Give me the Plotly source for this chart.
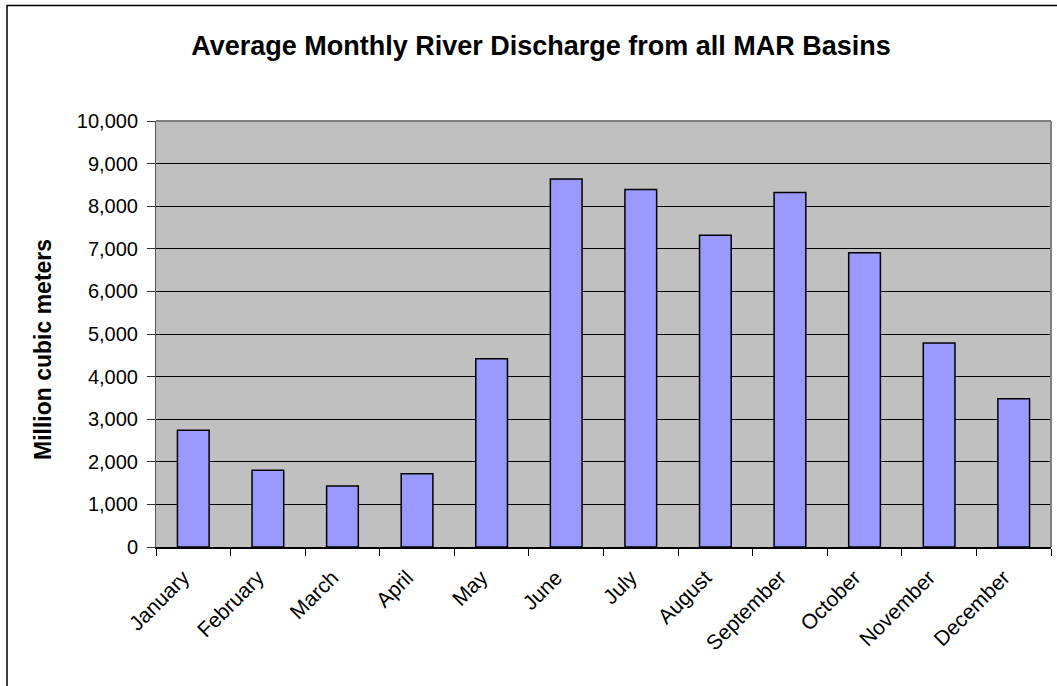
import plotly.graph_objects as go

months = ["January", "February", "March", "April", "May", "June", "July",
          "August", "September", "October", "November", "December"]
discharge = [2740, 1800, 1430, 1720, 4420, 8640, 8390, 7320, 8320, 6910, 4790, 3480]

y_ticks = list(range(0, 10001, 1000))
y_tick_text = [f"{v:,}" for v in y_ticks]

W, H = 1057, 686
L, R, T, B = 156, 1051, 121, 547  # plot area edges in pixels
FONT = "Liberation Sans, Arial, sans-serif"

fig = go.Figure(go.Bar(
    x=months,
    y=discharge,
    marker=dict(color="#9999FF", line=dict(color="#000000", width=1.5)),
    width=0.425,
))

def px_x(p):
    return (p - L) / (R - L)

def px_y(p):
    return (B - p) / (B - T)

fig.update_layout(
    width=W, height=H,
    margin=dict(l=L, r=W - R, t=T, b=H - B, pad=0),
    paper_bgcolor="white",
    plot_bgcolor="#C0C0C0",
    showlegend=False,
    font=dict(family=FONT, color="black", size=16),
    title=dict(
        text="<b>Average Monthly River Discharge from all MAR Basins</b>",
        x=px_x(541), xref="paper", xanchor="center",
        y=1 - 46 / H, yref="container", yanchor="middle",
        font=dict(size=27, family=FONT, color="black"),
    ),
    xaxis=dict(
        type="category",
        tickangle=-45,
        tickson="boundaries",
        ticks="outside", ticklen=7, tickcolor="black", tickwidth=1,
        showline=True, linecolor="black", linewidth=2,
        showgrid=False,
        tickfont=dict(size=21),
        ticklabelstandoff=8,
        ticklabelshift=-10,
    ),
    yaxis=dict(
        range=[0, 10000],
        tickvals=y_ticks, ticktext=y_tick_text,
        ticks="outside", ticklen=8, tickcolor="#333333", tickwidth=1,
        showline=True, linecolor="#555555", linewidth=1,
        showgrid=True, gridcolor="black", gridwidth=1,
        zeroline=False,
        tickfont=dict(size=20),
        ticklabelstandoff=5,
    ),
    annotations=[
        dict(text="<b>Million cubic meters</b>", textangle=-90,
             xref="paper", yref="paper", x=px_x(43), y=px_y(350),
             xanchor="center", yanchor="middle", showarrow=False,
             font=dict(size=23, family=FONT, color="black")),
    ],
    shapes=[
        # plot-area frame on the top and right
        dict(type="line", xref="paper", yref="paper", x0=0, x1=1, y0=1, y1=1,
             line=dict(color="#808080", width=2)),
        dict(type="line", xref="paper", yref="paper", x0=1, x1=1, y0=0, y1=1,
             line=dict(color="#808080", width=2)),
        # outer chart border
        dict(type="rect", xref="paper", yref="paper",
             x0=px_x(7), x1=px_x(1065), y0=px_y(700), y1=px_y(5.5),
             line=dict(color="black", width=1.5), fillcolor="rgba(0,0,0,0)",
             layer="below"),
    ],
)

fig.write_html("out.html")
